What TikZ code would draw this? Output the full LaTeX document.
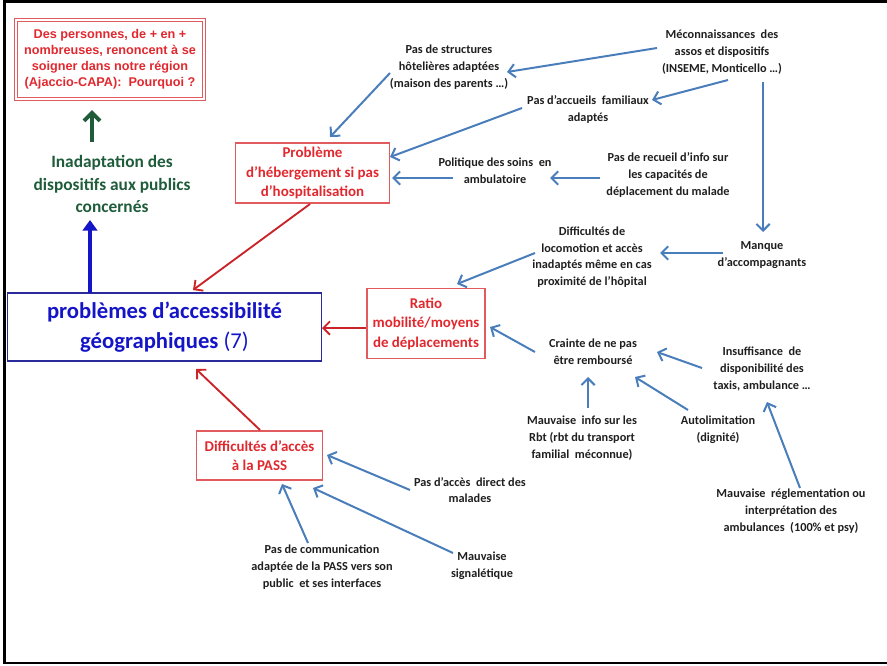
\documentclass[tikz,border=0pt]{standalone}
\usepackage{fontspec}
\setmainfont{Carlito}
\newfontfamily\arialfont{Liberation Sans}
\usetikzlibrary{arrows.meta,calc}

\definecolor{causeblue}{HTML}{4A7EBB}
\definecolor{boxred}{HTML}{E0282E}
\definecolor{edgered}{HTML}{E05A5E}
\definecolor{deepgreen}{HTML}{1E5C3A}
\definecolor{mainblue}{HTML}{1515C8}
\definecolor{mainedge}{HTML}{2A2A9A}

\tikzset{
  cause/.style={inner sep=0pt, align=center, text=black!88,
    font=\fontsize{9.2pt}{12.5pt}\selectfont\bfseries},
  redbox/.style={draw=edgered, line width=0.9pt, text=boxred, align=center,
    inner sep=0pt, font=\fontsize{11.2pt}{14.6pt}\selectfont\bfseries},
  bluearrow/.style={draw=causeblue, line width=1.5pt,
    -{Straight Barb[length=5pt,width=10pt,line width=1.5pt]}},
  redarrow/.style={draw=boxred!90!black, line width=1.4pt,
    -{Straight Barb[length=5pt,width=10pt,line width=1.4pt]}},
}

\begin{document}
\begin{tikzpicture}[x=0.75pt, y=-0.75pt]
\useasboundingbox (0,0) rectangle (887,665);

% page frame
\draw[line width=2.2pt] (895,1.5) -- (4.5,1.5) -- (4.5,663) -- (895,663);

% question box
\node[draw=edgered, double=white, double distance=1.4pt, line width=0.8pt,
      minimum width=141pt, minimum height=59.5pt, inner sep=0pt,
      text=boxred, align=center,
      font=\arialfont\fontsize{9.5pt}{12pt}\selectfont\bfseries]
  (goal) at (110,59.5)
  {Des personnes, de + en +\\nombreuses, renoncent à se\\soigner dans notre région\\(Ajaccio-CAPA):\ \ Pourquoi ?};

% intermediate conclusion
\node[inner sep=0pt, align=center, text=deepgreen,
      font=\fontsize{13pt}{17pt}\selectfont\bfseries]
  (inad) at (112,184) {Inadaptation des\\dispositifs aux publics\\concernés};

% central problem
\node[draw=mainedge, line width=0.8pt, minimum width=236pt, minimum height=51pt,
      inner sep=0pt, text=mainblue, align=center,
      font=\fontsize{17pt}{22.5pt}\selectfont\bfseries]
  (main) at (164.5,327) {problèmes d’accessibilité\\géographiques {\mdseries(7)}};

% sub-problems
\node[redbox, minimum width=116pt, minimum height=45pt] (heb) at (312.5,173)
  {Problème\\d’hébergement si pas\\d’hospitalisation};
\node[redbox, minimum width=88.5pt, minimum height=53pt] (ratio) at (426,323.5)
  {Ratio\\mobilité/moyens\\de déplacements};
\node[redbox, minimum width=95pt, minimum height=36.75pt] (pass) at (259.5,455.5)
  {Difficultés d’accès\\à la PASS};

% causes
\node[cause] (struct) at (449,67) {Pas de structures\\hôtelières adaptées\\(maison des parents …)};
\node[cause] (accueil) at (588,109.5) {Pas d’accueils\ \ familiaux\\adaptés};
\node[cause] (mecon) at (722,52) {Méconnaissances\ \ des\\assos\ et dispositifs\\(INSEME,\ Monticello …)};
\node[cause] (polit) at (495,171) {Politique des soins\ \ en\\ambulatoire};
\node[cause] (recueil) at (668,175) {Pas de recueil d’info\ sur\\les capacités\ de\\déplacement du malade};
\node[cause] (locom) at (592,257) {Difficultés\ de\\locomotion et accès\\inadaptés même en cas\\proximité de l’hôpital};
\node[cause] (manque) at (762,255) {Manque\\d’accompagnants};
\node[cause] (crainte) at (593,352) {Crainte de ne pas\\être remboursé};
\node[cause] (insuff) at (762,369) {Insuffisance\ \ de\\disponibilité\ des\\taxis, ambulance\ …};
\node[cause] (mauvinfo) at (582,438) {Mauvaise\ \ info sur les\\Rbt (rbt du transport\\familial\ \ méconnue)};
\node[cause] (autolim) at (718,430) {Autolimitation\\(dignité)};
\node[cause] (regl) at (791,511) {Mauvaise\ \ réglementation ou\\interprétation des\\ambulances\ \ (100\% et psy)};
\node[cause] (acces) at (470,490) {Pas d’accès\ \ direct des\\malades};
\node[cause] (signal) at (482,566) {Mauvaise\\signalétique};
\node[cause] (comm) at (322,567) {Pas de communication\\adaptée de la PASS vers son\\public\ \ et ses interfaces};

% cause links
\draw[bluearrow] ($(mecon)+(-65,-4)$) -- ($(struct)+(58,5)$);
\draw[bluearrow] ($(mecon)+(6,28)$) -- ($(accueil)+(64,-9.5)$);
\draw[bluearrow] ($(mecon)+(41,30)$) -- ($(manque)+(1,-23)$);
\draw[bluearrow] ($(struct)+(-59,6)$) -- ($(heb)+(17.5,-36)$);
\draw[bluearrow] ($(accueil)+(-66,-1.5)$) -- ($(heb)+(77.5,-16)$);
\draw[bluearrow] ($(recueil)+(-68,3)$) -- ($(polit)+(55,7)$);
\draw[bluearrow] ($(polit)+(-42,7)$) -- ($(heb)+(79.5,5)$);
\draw[bluearrow] ($(manque)+(-39,-2)$) -- ($(locom)+(68,-4)$);
\draw[bluearrow] ($(locom)+(-57,-4)$) -- ($(ratio)+(31,-39.5)$);
\draw[bluearrow] ($(crainte)+(-58,0)$) -- ($(ratio)+(64,3.5)$);
\draw[bluearrow] ($(insuff)+(-60,-1)$) -- ($(crainte)+(64,0)$);
\draw[bluearrow] ($(mauvinfo)+(6,-30)$) -- ($(crainte)+(-5,25)$);
\draw[bluearrow] ($(autolim)+(-30,-20)$) -- ($(crainte)+(42,25)$);
\draw[bluearrow] ($(regl)+(9,-23)$) -- ($(insuff)+(5,33)$);
\draw[bluearrow] ($(acces)+(-60,0)$) -- ($(pass)+(67.5,-0.5)$);
\draw[bluearrow] ($(signal)+(-29,-13)$) -- ($(pass)+(53.5,32.5)$);
\draw[bluearrow] ($(comm)+(-14,-24)$) -- ($(pass)+(22.5,28.5)$);

% sub-problem links
\draw[redarrow] ($(heb)+(-2.5,31)$) -- ($(main)+(28.5,-37)$);
\draw[redarrow] ($(ratio)+(-60,4.5)$) -- ($(main)+(157.5,1)$);
\draw[redarrow] ($(pass)+(0.5,-25.5)$) -- ($(main)+(31.5,42)$);

% conclusion links
\draw[draw=mainblue, line width=3pt, -{Triangle[length=8pt,width=11pt]}]
  ($(main)+(-74.5,-34)$) -- ($(inad)+(-22,36)$);
\draw[draw=deepgreen, line width=3pt,
      -{Straight Barb[length=6pt,width=12pt,line width=3pt]}]
  ($(inad)+(-20,-42)$) -- ($(goal)+(-18,50.5)$);
\end{tikzpicture}
\end{document}
